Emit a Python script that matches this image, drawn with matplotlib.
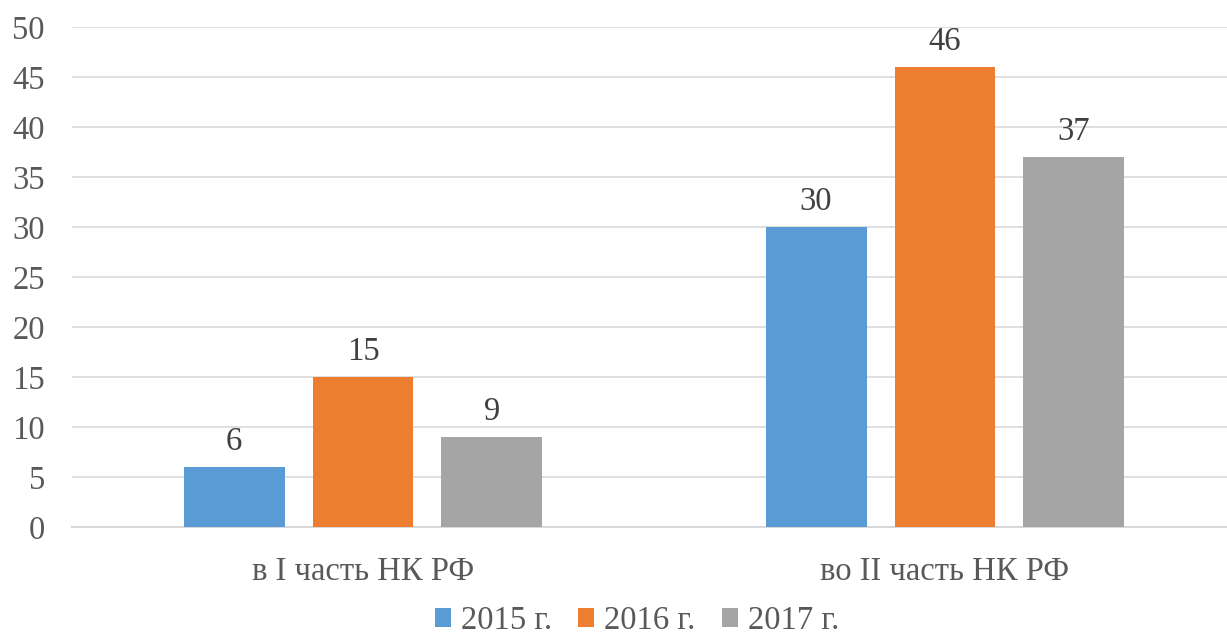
import numpy as np
import matplotlib.pyplot as plt

plt.rcParams['font.family'] = ['Liberation Serif', 'DejaVu Serif']

categories = ['в I часть НК РФ', 'во II часть НК РФ']
years = ['2015 г.', '2016 г.', '2017 г.']
values = {
    '2015 г.': [6, 30],
    '2016 г.': [15, 46],
    '2017 г.': [9, 37],
}
colors = ['#5B9BD5', '#ED7D31', '#A5A5A5']

W, H = 1227, 639
fig = plt.figure(figsize=(W / 100, H / 100), dpi=100)
ax = fig.add_axes([72 / W, 1 - 527 / H, 1164 / W, 500 / H])

x = np.arange(len(categories))
width = 0.1735
step = 0.2216
text_color = '#595959'
fs = 23.5

for i, (yr, col) in enumerate(zip(years, colors)):
    pos = x + (i - 1) * step
    bars = ax.bar(pos, values[yr], width, color=col, label=yr, zorder=3)
    for b, v in zip(bars, values[yr]):
        ax.annotate(str(v), (b.get_x() + b.get_width() / 2, v),
                    xytext=(0, 7.5), textcoords='offset points',
                    ha='center', va='bottom', fontsize=fs, color='#404040')

ax.set_xlim(-0.5, 1.5)
ax.set_ylim(0, 50)
ax.set_yticks(range(0, 51, 5))
ax.yaxis.grid(True, color='#d9d9d9', linewidth=1.2, zorder=0)
ax.set_xticks(x)
ax.set_xticklabels(categories)
ax.tick_params(axis='both', length=0, labelsize=fs, colors=text_color)
ax.tick_params(axis='y', pad=19.5)
ax.tick_params(axis='x', pad=21)
for s in ['top', 'right', 'left']:
    ax.spines[s].set_visible(False)
ax.spines['bottom'].set_color('#d9d9d9')
ax.spines['bottom'].set_linewidth(1.5)

leg = fig.legend(loc='center', bbox_to_anchor=(0.519, 1 - 621 / H), ncol=3,
                 frameon=False, fontsize=fs, handlelength=0.5, handleheight=0.5,
                 handletextpad=0.3, columnspacing=0.8, borderpad=0.2)
for t in leg.get_texts():
    t.set_color(text_color)

fig.savefig('out.png', dpi=100)
